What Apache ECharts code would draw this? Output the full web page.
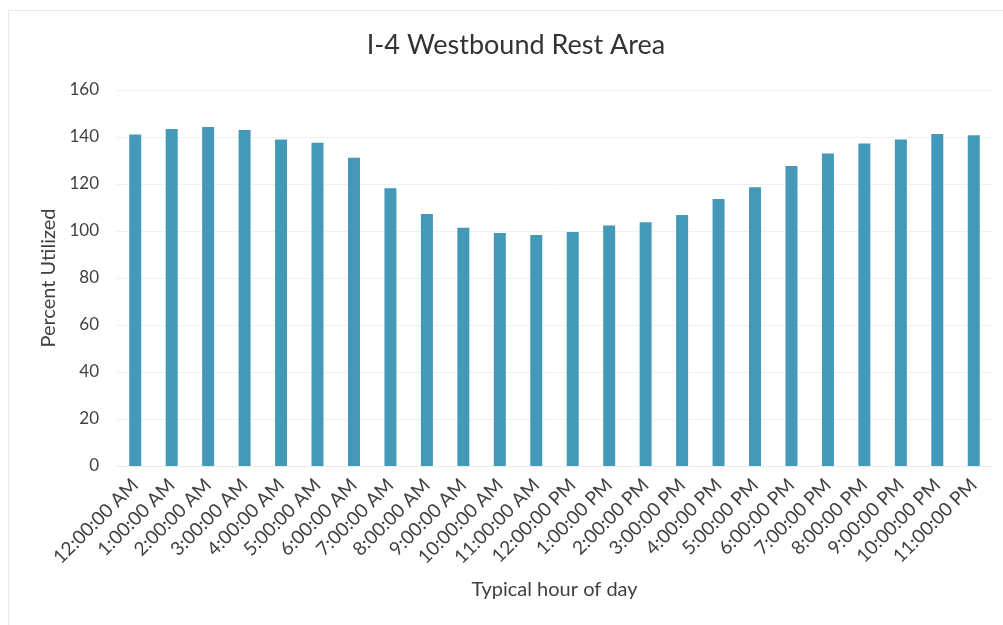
<!DOCTYPE html>
<html>
<head>
<meta charset="utf-8">
<script src="https://cdn.jsdelivr.net/npm/echarts@6/dist/echarts.min.js"></script>
<style>
html,body{margin:0;padding:0;background:#fff;}
#chart{width:1003px;height:625px;}
</style>
</head>
<body>
<div id="chart"></div>
<script>
const titleText = 'I-4 Westbound Rest Area';
const categories = ['12:00:00 AM','1:00:00 AM','2:00:00 AM','3:00:00 AM','4:00:00 AM','5:00:00 AM','6:00:00 AM','7:00:00 AM','8:00:00 AM','9:00:00 AM','10:00:00 AM','11:00:00 AM','12:00:00 PM','1:00:00 PM','2:00:00 PM','3:00:00 PM','4:00:00 PM','5:00:00 PM','6:00:00 PM','7:00:00 PM','8:00:00 PM','9:00:00 PM','10:00:00 PM','11:00:00 PM'];
const percentUtilized = [141.1,143.4,144.3,143.0,138.9,137.6,131.2,118.2,107.2,101.4,99.1,98.3,99.6,102.3,103.7,106.8,113.6,118.6,127.7,133.0,137.2,138.9,141.3,140.7];
const xAxisName = 'Typical hour of day';
const yAxisName = 'Percent Utilized';

const chart = echarts.init(document.getElementById('chart'), null, {renderer:'canvas'});
const FONT = 'Lato';
chart.setOption({
  animation: false,
  backgroundColor: '#ffffff',
  graphic: [{
    type: 'rect',
    left: 6, top: 8,
    shape: {x: 0.5, y: 0.5, width: 1020, height: 700},
    style: {fill: 'none', stroke: '#e9e9e9', lineWidth: 1},
    silent: true, z: -10
  }],
  title: {
    text: titleText,
    left: 511,
    textAlign: 'center',
    top: 27,
    textStyle: {fontFamily: FONT, fontSize: 27, fontWeight: 'normal', color: '#333333'}
  },
  grid: {left: 117, right: 11, top: 90, bottom: 159, containLabel: false},
  xAxis: {
    type: 'category',
    data: categories,
    name: xAxisName,
    nameLocation: 'middle',
    nameGap: 114,
    nameTextStyle: {fontFamily: FONT, fontSize: 20, color: '#404040'},
    axisLine: {show: true, lineStyle: {color: '#ebebeb', width: 1}},
    axisTick: {show: false},
    axisLabel: {rotate: 45, interval: 0, margin: 16, fontFamily: FONT, fontSize: 19, color: '#404040'}
  },
  yAxis: {
    type: 'value',
    min: 0, max: 160, interval: 20,
    name: yAxisName,
    nameLocation: 'middle',
    nameGap: 57,
    nameRotate: 90,
    nameTextStyle: {fontFamily: FONT, fontSize: 20, color: '#404040'},
    axisLine: {show: false},
    axisTick: {show: false},
    axisLabel: {margin: 18, fontFamily: FONT, fontSize: 17, color: '#404040'},
    splitLine: {lineStyle: {color: '#f0f0f0', width: 1}}
  },
  series: [{
    type: 'bar',
    data: percentUtilized,
    barWidth: 12,
    itemStyle: {color: '#4499b8'}
  }]
});
</script>
</body>
</html>
